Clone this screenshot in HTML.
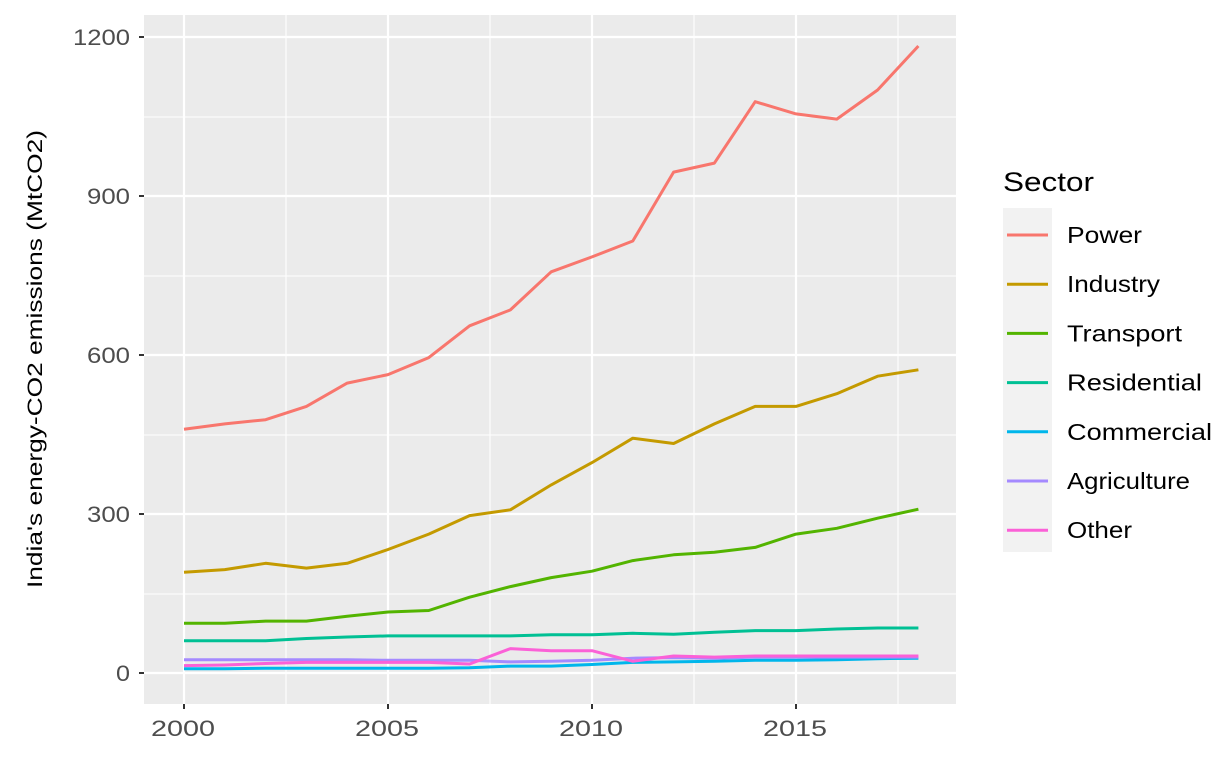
<!DOCTYPE html>
<html><head><meta charset="utf-8"><style>body{margin:0;background:#fff}svg{display:block;font-family:"Liberation Sans",Arial,sans-serif}</style></head><body>
<svg width="1232" height="764" xmlns="http://www.w3.org/2000/svg">
<rect x="144" y="15" width="812" height="689" fill="#ebebeb"/>
<g stroke="#fff" stroke-width="1.1">
<line x1="144" x2="956" y1="594" y2="594"/><line x1="144" x2="956" y1="435" y2="435"/><line x1="144" x2="956" y1="276" y2="276"/><line x1="144" x2="956" y1="117" y2="117"/>
<line x1="286" x2="286" y1="15" y2="704"/><line x1="490" x2="490" y1="15" y2="704"/><line x1="694" x2="694" y1="15" y2="704"/><line x1="898" x2="898" y1="15" y2="704"/>
</g>
<g stroke="#fff" stroke-width="2.2">
<line x1="144" x2="956" y1="673" y2="673"/><line x1="144" x2="956" y1="514" y2="514"/><line x1="144" x2="956" y1="355" y2="355"/><line x1="144" x2="956" y1="196" y2="196"/><line x1="144" x2="956" y1="37" y2="37"/>
<line x1="184" x2="184" y1="15" y2="704"/><line x1="388" x2="388" y1="15" y2="704"/><line x1="592" x2="592" y1="15" y2="704"/><line x1="796" x2="796" y1="15" y2="704"/>
</g>
<g id="s" fill="none" stroke-width="3" stroke-linejoin="round"></g>
<g stroke="#333" stroke-width="2">
<line x1="139" x2="144" y1="673" y2="673"/><line x1="139" x2="144" y1="514" y2="514"/><line x1="139" x2="144" y1="355" y2="355"/><line x1="139" x2="144" y1="196" y2="196"/><line x1="139" x2="144" y1="37" y2="37"/>
<line x1="184" x2="184" y1="704" y2="709"/><line x1="388" x2="388" y1="704" y2="709"/><line x1="592" x2="592" y1="704" y2="709"/><line x1="796" x2="796" y1="704" y2="709"/>
</g>
<g fill="#4d4d4d" font-size="22" text-anchor="end" lengthAdjust="spacingAndGlyphs">
<text x="130" y="681" textLength="14" lengthAdjust="spacingAndGlyphs">0</text><text x="130" y="522" textLength="43" lengthAdjust="spacingAndGlyphs">300</text><text x="130" y="363" textLength="43" lengthAdjust="spacingAndGlyphs">600</text><text x="130" y="204" textLength="43" lengthAdjust="spacingAndGlyphs">900</text><text x="130" y="45" textLength="57" lengthAdjust="spacingAndGlyphs">1200</text>
</g>
<g fill="#4d4d4d" font-size="22" text-anchor="middle">
<text x="183" y="736" textLength="64" lengthAdjust="spacingAndGlyphs">2000</text><text x="387" y="736" textLength="64" lengthAdjust="spacingAndGlyphs">2005</text><text x="591" y="736" textLength="64" lengthAdjust="spacingAndGlyphs">2010</text><text x="795" y="736" textLength="64" lengthAdjust="spacingAndGlyphs">2015</text>
</g>
<text transform="translate(42,359) rotate(-90)" font-size="21" text-anchor="middle" fill="#000" textLength="458" lengthAdjust="spacingAndGlyphs">India's energy-CO2 emissions (MtCO2)</text>
<text x="1003" y="191" font-size="27" fill="#000" textLength="91" lengthAdjust="spacingAndGlyphs">Sector</text>
<rect x="1003" y="208" width="49" height="344" fill="#f2f2f2"/>
<g id="lg" font-size="23" fill="#000"></g>
</svg>
<script>
const ns="http://www.w3.org/2000/svg";
const S=[["Power","#F8766D",[460,470,478,503,547,563,595,655,685,757,785,815,945,962,1078,1055,1045,1100,1183],75],
["Industry","#C49A00",[190,195,207,198,207,233,262,297,308,355,397,443,433,470,503,503,527,560,572],93],
["Transport","#53B400",[94,94,98,98,107,115,118,143,163,180,192,212,223,228,237,262,273,292,309],115],
["Residential","#00C094",[61,61,61,65,68,70,70,70,70,72,72,75,73,77,80,80,83,85,85],135],
["Commercial","#00B6EB",[8,8,9,9,9,9,9,10,13,13,16,20,21,22,24,24,25,27,28],145],
["Agriculture","#A58AFF",[25,25,25,25,25,24,24,24,21,22,24,28,29,28,30,30,30,30,30],123],
["Other","#FB61D7",[14,15,18,20,20,20,20,17,46,42,42,22,32,30,32,32,32,32,32],65]];
const g=document.getElementById("s"),lg=document.getElementById("lg");
S.forEach((s,i)=>{const p=document.createElementNS(ns,"polyline");
p.setAttribute("points",s[2].map((v,j)=>(184+j*40.8).toFixed(1)+","+(673-v*0.53).toFixed(1)).join(" "));
p.setAttribute("stroke",s[1]);g.appendChild(p);
const y=235+i*49.2;const l=document.createElementNS(ns,"line");
l.setAttribute("x1",1007);l.setAttribute("x2",1048);l.setAttribute("y1",y);l.setAttribute("y2",y);l.setAttribute("stroke",s[1]);l.setAttribute("stroke-width",3);lg.appendChild(l);
const t=document.createElementNS(ns,"text");t.setAttribute("x",1067);t.setAttribute("y",y+8);t.setAttribute("textLength",s[3]);t.setAttribute("lengthAdjust","spacingAndGlyphs");t.textContent=s[0];lg.appendChild(t);});
</script>
</body></html>
